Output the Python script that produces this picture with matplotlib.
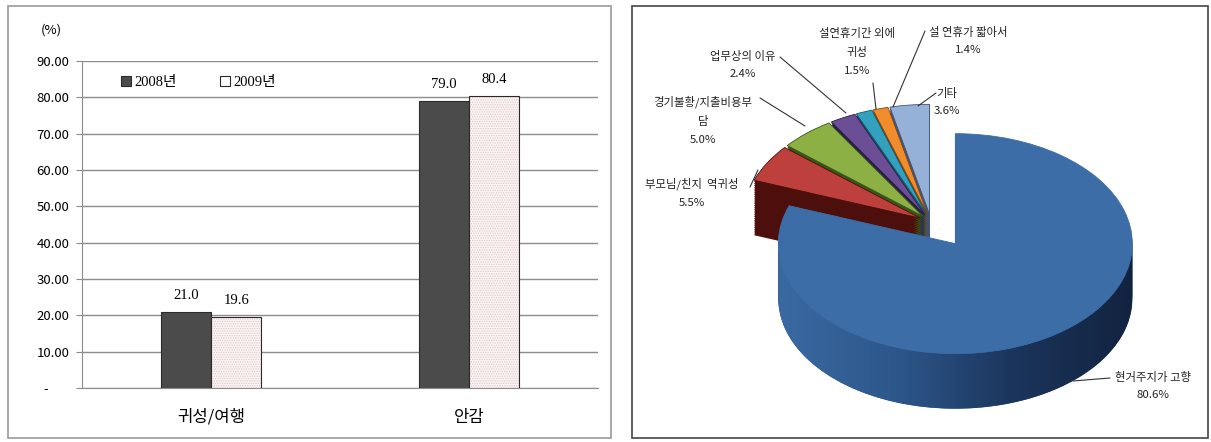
import numpy as np
import matplotlib.pyplot as plt
from matplotlib.patches import Rectangle, Polygon
from matplotlib.colors import LinearSegmentedColormap

plt.rcParams['font.family'] = ['Noto Sans CJK KR', 'DejaVu Sans']
plt.rcParams['hatch.linewidth'] = 0.6

# bar chart data
categories = ['귀성/여행', '안감']
years = ['2008년', '2009년']
share_2008 = [21.0, 79.0]
share_2009 = [19.6, 80.4]
y_ticks = [0, 10, 20, 30, 40, 50, 60, 70, 80, 90]

# pie chart data
reasons = ['현거주지가 고향', '부모님/친지  역귀성', '경기불황/지출비용부\n담',
           '업무상의 이유', '설연휴기간 외에\n귀성', '설 연휴가 짧아서', '기타']
reason_pct = [80.6, 5.5, 5.0, 2.4, 1.5, 1.4, 3.6]

W, H = 1211, 442
fig = plt.figure(figsize=(W / 100, H / 100), dpi=100)


def fig_rect(x0, y0, x1, y1):
    return [x0 / W, 1 - y1 / H, (x1 - x0) / W, (y1 - y0) / H]


# panel borders
for (x0, y0, x1, y1), ec in [((8, 6, 611, 438), '#999999'), ((632, 6, 1208, 438), '#444444')]:
    r = fig_rect(x0, y0, x1, y1)
    fig.add_artist(Rectangle((r[0], r[1]), r[2], r[3], transform=fig.transFigure,
                             fill=False, edgecolor=ec, lw=1.2))

# ---------------- left: bar chart ----------------
ax = fig.add_axes(fig_rect(82, 61, 598, 388))
x = np.arange(len(categories))
bw = 0.195
b08 = ax.bar(x - bw / 2, share_2008, bw, color='#4B4B4B', edgecolor='#2A2A2A',
             lw=0.8, zorder=3, label=years[0])
ax.bar(x + bw / 2, share_2009, bw, color='#FBF3F3', edgecolor='#DCCACA', hatch='.......',
       lw=0, zorder=3)
b09 = ax.bar(x + bw / 2, share_2009, bw, fill=False, edgecolor='#2A2A2A', lw=0.8,
             zorder=4, label=years[1])
for cont in (b08, b09):
    ax.bar_label(cont, fmt='%.1f', padding=7, fontsize=10.5, family='Liberation Serif')

ax.set_xlim(-0.5, 1.5)
ax.set_ylim(0, 90)
ax.set_yticks(y_ticks)
ax.set_yticklabels(['-       ' if v == 0 else f'{v:.2f}' for v in y_ticks], fontsize=9.5)
ax.set_xticks(x)
ax.set_xticklabels(categories, fontsize=12)
ax.tick_params(axis='y', length=4, color='#888888', pad=5)
ax.tick_params(axis='x', length=0, pad=15)
ax.yaxis.grid(True, color='#8C8C8C', lw=1)
ax.set_axisbelow(True)
for s in ('top', 'right'):
    ax.spines[s].set_visible(False)
for s in ('left', 'bottom'):
    ax.spines[s].set_color('#8C8C8C')
ax.legend(loc='upper left', bbox_to_anchor=(0.05, 0.995), ncol=2, frameon=False,
          handlelength=0.7, handleheight=0.7, handletextpad=0.2, columnspacing=3.0,
          prop={'family': ['Liberation Serif', 'Noto Sans CJK KR'], 'size': 10.5})
fig.text(51 / W, 1 - 30 / H, '(%)', ha='center', va='center', fontsize=9.5)

# ---------------- right: 3D-style pie ----------------
ax2 = fig.add_axes(fig_rect(632, 6, 1208, 438))
CX, CY, RX, RY = 931, 222, 177, 110   # pie centre / radii in pixels
DEPTH = 55 / RY


def to_data(px, py):
    return ((px - CX) / RX, (CY - py) / RY)


top_colors = ['#3D6DA7', '#BE403C', '#8DB045', '#6B4E96', '#33A1BE', '#F08C2C', '#95B1D8']
side_colors = ['#2C5588', '#4C0F0B', '#3A5518', '#2A1E46', '#155567', '#7E4512', '#3F5577']
explode = [0.24, 0.07, 0.07, 0.07, 0.07, 0.07, 0.07]

pie_kw = dict(explode=explode, startangle=90, counterclock=False)
for d in np.linspace(DEPTH, 0, 30, endpoint=False):
    wedges, _ = ax2.pie(reason_pct, colors=side_colors, center=(0, -d),
                        wedgeprops=dict(linewidth=0), **pie_kw)
    for i, w in enumerate(wedges):
        w.set_zorder(3 if i == 0 else 1)
tops, _ = ax2.pie(reason_pct, colors=top_colors, center=(0, 0),
                  wedgeprops=dict(linewidth=0.6), **pie_kw)
for i, w in enumerate(tops):
    w.set_edgecolor(side_colors[i] if i else top_colors[0])
    w.set_zorder(4 if i == 0 else 2)

# shaded front side of the big slice
bx, by = tops[0].center
t = np.linspace(np.pi, 2 * np.pi, 120)
upper = np.column_stack([bx + np.cos(t), by + np.sin(t)])
lower = np.column_stack([bx + np.cos(t[::-1]), by - DEPTH + np.sin(t[::-1])])
side = Polygon(np.vstack([upper, lower]), closed=True, facecolor='none', edgecolor='none')
ax2.add_patch(side)
cmap = LinearSegmentedColormap.from_list('side', ['#3A69A2', '#2D578B', '#1B355C', '#12233F'])
img = ax2.imshow(np.linspace(0, 1, 256)[None, :], cmap=cmap, aspect='auto',
                 extent=(bx - 1, bx + 1, by - 1 - DEPTH, by), zorder=3.5)
img.set_clip_path(side)

ax2.set_aspect('auto')
ax2.set_xlim(to_data(632, 0)[0], to_data(1208, 0)[0])
ax2.set_ylim(to_data(0, 438)[1], to_data(0, 6)[1])
ax2.axis('off')

# label layout (pixels): text block centre, leader line start, leader line end
label_layout = [
    ((1153, 386), (1110, 378), (1073, 381)),
    ((692, 193), (750, 187), (758, 170)),
    ((703, 120), (760, 98), (805, 126)),
    ((743, 65), (780, 57), (846, 113)),
    ((857, 52), (873, 83), (876, 109)),
    ((968, 41), (925, 31), (893, 107)),
    ((947, 102), (936, 93), (918, 106)),
]
for name, pct, (tc, ls, le) in zip(reasons, reason_pct, label_layout):
    ax2.text(*to_data(*tc), f'{name}\n{pct:.1f}%', ha='center', va='center',
             multialignment='center', fontsize=8.2, linespacing=1.95, color='#222222',
             zorder=6)
    ax2.annotate('', xy=to_data(*le), xytext=to_data(*ls),
                 arrowprops=dict(arrowstyle='-', color='#333333', lw=0.8,
                                 shrinkA=0, shrinkB=0), zorder=6)

fig.savefig('out.png', dpi=100)
